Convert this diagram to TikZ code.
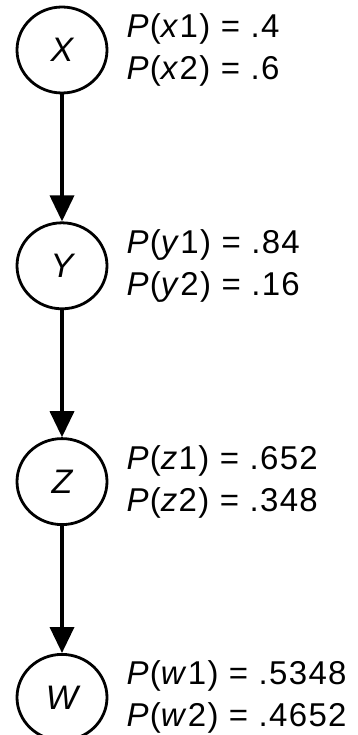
\documentclass[tikz,border=0pt]{standalone}
\usepackage{fontspec}
\newfontfamily\probfont[LetterSpace=4]{Liberation Sans}
\usetikzlibrary{arrows.meta,positioning,shapes.geometric}

\begin{document}
\begin{tikzpicture}[
    node distance=127pt and 18pt,
    var/.style={ellipse, draw, line width=2.8pt, minimum width=90pt,
                minimum height=86pt, inner sep=0pt,
                font=\probfont\fontsize{34}{40}\selectfont\itshape},
    prob/.style={inner sep=0pt, align=left,
                 font=\probfont\fontsize{33}{42}\selectfont},
    arr/.style={-{Triangle[width=24pt,length=26pt]}, line width=3.6pt}
  ]
  \useasboundingbox (0,0) rectangle (357pt,-735pt);
  \node[var] (x) at (62pt,-50pt) {X};
  \node[var, below=of x] (y) {Y};
  \node[var, below=of y] (z) {Z};
  \node[var, below=of z] (w) {W};
  % probabilities next to each variable
  \node[prob, right=of x] (px) {\textit{P}(\textit{x}1) = .4\\\textit{P}(\textit{x}2) = .6};
  \node[prob, right=of y] (py) {\textit{P}(\textit{y}1) = .84\\\textit{P}(\textit{y}2) = .16};
  \node[prob, right=of z] (pz) {\textit{P}(\textit{z}1) = .652\\\textit{P}(\textit{z}2) = .348};
  \node[prob, right=of w] (pw) {\textit{P}(\textit{w}1) = .5348\\\textit{P}(\textit{w}2) = .4652};
  \foreach \a/\b in {x/y,y/z,z/w}
    \draw[arr] (\a) -- (\b);
\end{tikzpicture}
\end{document}
